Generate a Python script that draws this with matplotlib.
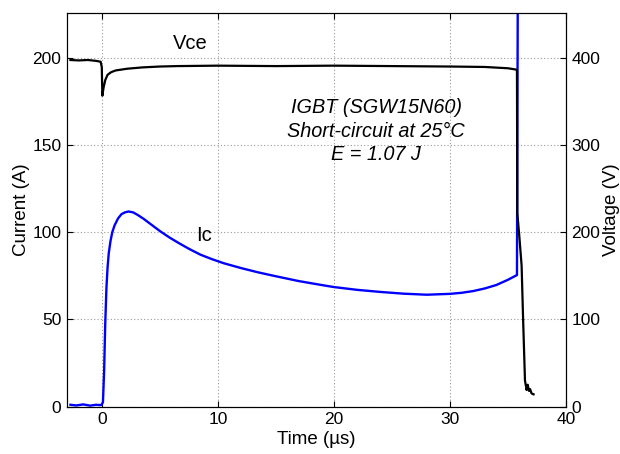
import matplotlib
matplotlib.use("Agg")
import matplotlib.pyplot as plt

plt.rcParams['font.family'] = ['Liberation Sans', 'DejaVu Sans']

# Collector current Ic (A), left axis
t_ic = [-2.7, -2.2, -1.6, -1.0, -0.5, -0.1, 0.0, 0.1, 0.2, 0.3, 0.4, 0.5,
        0.6, 0.75, 0.9, 1.1, 1.4, 1.7, 2.0, 2.3, 2.7, 3.1, 3.6, 4.2, 5.0,
        5.8, 6.6, 7.5, 8.5, 9.5, 10.5, 12.0, 13.5, 15.0, 17.0, 19.0, 20.0,
        22.0, 24.0, 26.0, 28.0, 30.0, 31.0, 32.0, 33.0, 34.0, 35.0, 35.77,
        35.85]
ic = [1.0, 0.6, 1.2, 0.5, 1.0, 0.8, 1.2, 2.5, 20.0, 48.0, 68.0, 80.0,
      88.0, 95.0, 100.0, 104.0, 108.0, 110.5, 111.5, 112.0, 111.5, 110.0,
      107.8, 104.8, 100.8, 97.2, 94.0, 90.6, 87.2, 84.6, 82.3, 79.5, 77.0,
      74.8, 72.0, 69.7, 68.6, 67.0, 65.8, 64.8, 64.2, 64.7, 65.3, 66.3,
      67.8, 69.8, 72.8, 75.5, 260.0]

# Collector-emitter voltage Vce (V), right axis
t_vce = [-2.7, -2.0, -1.2, -0.5, -0.1, 0.0, 0.05, 0.15, 0.3, 0.5, 0.8,
         1.2, 1.7, 2.2, 3.5, 5.0, 6.5, 10.0, 15.0, 20.0, 25.0, 30.0, 33.0,
         35.0, 35.7, 35.77, 35.8, 35.97, 36.17, 36.3, 36.46, 36.6, 36.7,
         36.8, 36.9, 37.03, 37.2]
vce = [398.0, 397.5, 398.0, 397.0, 396.0, 390.0, 357.0, 366.0, 375.0,
       381.0, 384.0, 386.0, 387.0, 388.0, 389.5, 390.5, 391.0, 391.5,
       391.0, 391.5, 391.0, 390.5, 390.0, 388.5, 387.0, 386.0, 222.0,
       196.0, 162.0, 100.0, 30.0, 19.0, 25.0, 18.0, 20.0, 15.0, 14.0]

x_ticks = [0, 10, 20, 30, 40]
ic_ticks = [0, 50, 100, 150, 200]
v_ticks = [0, 100, 200, 300, 400]

fig = plt.figure(figsize=(6.2, 4.54), dpi=100)
ax = fig.add_axes([0.108, 0.1046, 0.805, 0.8668])
ax2 = ax.twinx()

ax.plot(t_ic, ic, color=(0, 0, 1), lw=1.7, zorder=3)
ax2.plot(t_vce, vce, color='black', lw=1.6, zorder=3)

ax.set_xlim(-3, 40)
ax.set_ylim(0, 226)
ax2.set_ylim(0, 452)

ax.set_xticks(x_ticks)
ax.set_yticks(ic_ticks)
ax2.set_yticks(v_ticks)

ax.grid(True, color='#9a9a9a', linestyle=(0, (1, 2)), linewidth=0.8)
ax.set_axisbelow(True)

ax.tick_params(axis='both', direction='in', length=4, width=0.8,
               labelsize=12.5, top=True, pad=4)
ax2.tick_params(axis='y', direction='in', length=4, width=0.8,
                labelsize=12.5, pad=4)

ax.set_xlabel('Time (µs)', fontsize=13.5, labelpad=3)
ax.set_ylabel('Current (A)', fontsize=13.5, labelpad=2)
ax2.set_ylabel('Voltage (V)', fontsize=13.5, labelpad=2)

for a in (ax, ax2):
    for s in a.spines.values():
        s.set_linewidth(0.8)

ax.text(7.65, 208.6, 'Vce', fontsize=14.5, ha='center', va='center')
ax.text(8.77, 98.3, 'Ic', fontsize=14.5, ha='center', va='center')
ax.text(23.65, 158, 'IGBT (SGW15N60)\nShort-circuit at 25°C\nE = 1.07 J',
        fontsize=14.3, style='italic', ha='center', va='center',
        linespacing=1.3)

fig.savefig('out.png', dpi=100)
